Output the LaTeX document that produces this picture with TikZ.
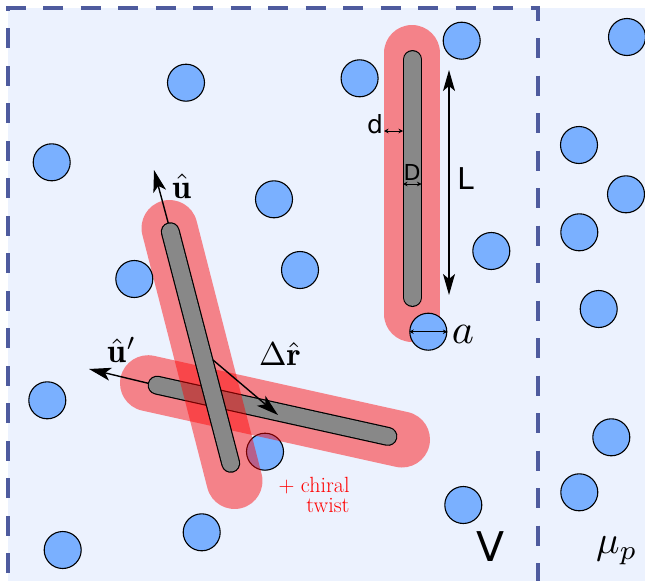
\documentclass[tikz,border=0pt]{standalone}
\usepackage{fontspec}
\newfontfamily\dejavu{DejaVu Sans}
\usetikzlibrary{arrows.meta}
\definecolor{bgblue}{RGB}{236,242,254}
\definecolor{ballc}{RGB}{122,176,255}
\definecolor{rodgray}{RGB}{136,136,136}
\definecolor{dashblue}{RGB}{78,91,158}
\begin{document}
\begin{tikzpicture}[x=1pt,y=-1pt,
  ball/.style={circle, draw=black, line width=1.1pt, fill=ballc, minimum size=37pt, inner sep=0pt},
  halo/.style={line width=56pt, line cap=round, draw=red, draw opacity=0.46},
  rodout/.style={line width=19pt, line cap=round, draw=black},
  rodin/.style={line width=16.6pt, line cap=round, draw=rodgray},
  bigarrow/.style={-{Stealth[length=22pt,width=13pt,inset=5.5pt]}, line width=1.4pt},
  bothbig/.style={{Stealth[length=21pt,width=12pt,inset=5pt]}-{Stealth[length=21pt,width=12pt,inset=5pt]}, line width=1.4pt},
  small/.style={{Stealth[length=4.5pt,width=4.5pt]}-{Stealth[length=4.5pt,width=4.5pt]}, line width=0.8pt},
  sanslab/.style={inner sep=0pt, text=black},
  mathlab/.style={inner sep=0pt, text=black}]
\useasboundingbox (0,0) rectangle (645,581);
% background
\fill[bgblue] (8,8) rectangle (645,581);
% dashed volume V
\draw[dashblue, line width=3.3pt, dash pattern=on 20pt off 17.5pt, dash phase=29.5pt, line join=miter]
  (8,581) -- (8,8) -- (538,8) -- (538,581);
% rod coordinates
\coordinate (vA) at (412.5,59.5);  \coordinate (vB) at (412.5,297.5);
\coordinate (vhA) at (412,53);     \coordinate (vhB) at (412,314);
\coordinate (pA) at (170.3,231.7); \coordinate (pB) at (230.7,463.3);
\coordinate (phA) at (169.5,228);  \coordinate (phB) at (234.5,481);
\coordinate (qA) at (157.1,385.2); \coordinate (qB) at (387.9,436.4);
\coordinate (qhA) at (148,383.2);  \coordinate (qhB) at (402,439.5);
% overlapped ball
\node[ball] (b16) at (265,451.7) {};
% rod 2 (shallow)
\draw[halo] (qhA) -- (qhB);
\draw[rodout] (qA) -- (qB);
\draw[rodin] (qA) -- (qB);
% rod 1 (steep)
\draw[halo] (phA) -- (phB);
\draw[rodout] (pA) -- (pB);
\draw[rodin] (pA) -- (pB);
% vertical rod
\draw[halo] (vhA) -- (vhB);
\draw[rodout] (vA) -- (vB);
\draw[rodin] (vA) -- (vB);
% balls
\node[ball] (b1) at (186,82.7) {};
\node[ball] (b2) at (359.6,78.3) {};
\node[ball] (b3) at (461.7,40.7) {};
\node[ball] (b4) at (627,37) {};
\node[ball] (b5) at (51.7,162.3) {};
\node[ball] (b6) at (274,199.3) {};
\node[ball] (b7) at (579,145) {};
\node[ball] (b8) at (626,194.3) {};
\node[ball] (b9) at (579.3,232.3) {};
\node[ball] (b10) at (491.3,251) {};
\node[ball] (b11) at (134.3,279) {};
\node[ball] (b12) at (300,270) {};
\node[ball] (b13) at (598.7,309) {};
\node[ball] (b14) at (428.3,331.7) {};
\node[ball] (b15) at (47.3,400.3) {};
\node[ball] (b17) at (611.3,437.3) {};
\node[ball] (b18) at (579.3,492.3) {};
\node[ball] (b19) at (463.3,505) {};
\node[ball] (b20) at (201.7,532.3) {};
\node[ball] (b21) at (62.7,550) {};
% arrow ends
\coordinate (uS) at (168.3,223.3); \coordinate (uE) at (154,170);
\coordinate (upS) at (148.3,383.3); \coordinate (upE) at (89,369);
\coordinate (drS) at (213,360); \coordinate (drE) at (278,415);
\coordinate (LA) at (449,70); \coordinate (LB) at (449,295);
\coordinate (dA) at (384,131); \coordinate (dB) at (403,131);
\coordinate (DA) at (403,184); \coordinate (DB) at (421.5,184);
\draw[bigarrow] (uS) -- (uE);
\draw[bigarrow] (upS) -- (upE);
\draw[bigarrow] (drS) -- (drE);
\draw[bothbig] (LA) -- (LB);
\draw[small] (dA) -- (dB);
\draw[small] (DA) -- (DB);
\draw[small] (b14.west) -- (b14.east);
% labels
\node[mathlab, scale=3.4] (lu) at (182,186) {$\hat{\mathbf{u}}$};
\node[mathlab, scale=3.4] (lup) at (122,350) {$\hat{\mathbf{u}}'$};
\node[mathlab, scale=3.3] (ldr) at (280,354) {$\Delta\hat{\mathbf{r}}$};
\node[mathlab, scale=4.2] (la) at (463,334) {$a$};
\node[mathlab, scale=3.9] (lmu) at (617,551) {$\mu_p$};
\node[sanslab, font=\dejavu\fontsize{25}{25}\selectfont] (ld) at (375,124) {d};
\node[sanslab, font=\dejavu\fontsize{22}{22}\selectfont] (lD) at (412,172) {D};
\node[sanslab, font=\dejavu\fontsize{30}{30}\selectfont] (lL) at (466,179) {L};
\node[sanslab, font=\dejavu\fontsize{41}{41}\selectfont] (lV) at (490.5,547) {V};
\node[inner sep=0pt, align=right, text=red, font=\fontsize{22}{20}\selectfont] (lc) at (314,495) {+ chiral\\twist};
\end{tikzpicture}
\end{document}
